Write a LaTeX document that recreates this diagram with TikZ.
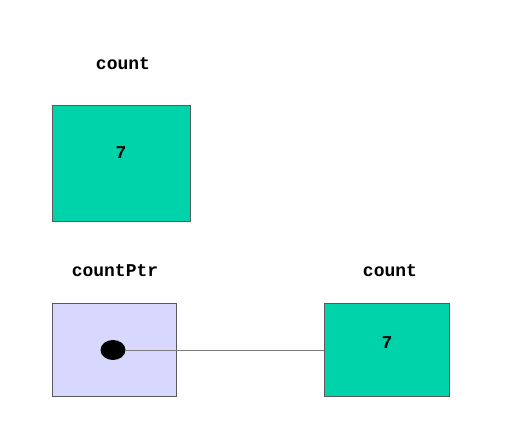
\documentclass[tikz,border=0pt]{standalone}
\usepackage{fontspec}
\setmonofont{Liberation Mono}
\usetikzlibrary{shapes.geometric}
\definecolor{valgreen}{HTML}{00D2AA}
\definecolor{ptrblue}{HTML}{D8D8FF}
\definecolor{edge}{HTML}{5A5A5A}
\begin{document}
\begin{tikzpicture}[x=1pt,y=1pt,
  lbl/.style={font=\ttfamily\bfseries\fontsize{18}{20}\selectfont, text=black, inner sep=0pt},
  valbox/.style={draw=edge, fill=valgreen, line width=0.8pt},
  ptrbox/.style={draw=edge, fill=ptrblue, line width=0.8pt}]
\useasboundingbox (0,0) rectangle (528,445);
% top box
\path[valbox] (52,224) rectangle (190,340);
\node[lbl] (t7) at (121,292) {7};
\node[lbl] (tlabel) at (123,381) {count};
% bottom left
\path[ptrbox] (52,49) rectangle (176,142);
\node[lbl] (plabel) at (115,174) {countPtr};
% bottom right
\path[valbox] (324,49) rectangle (449,142);
\node[lbl] (b7) at (387,102) {7};
\node[lbl] (blabel) at (390,174) {count};
\coordinate (tgt) at (324,95);
\node[fill=black, ellipse, minimum width=25pt, minimum height=20pt, inner sep=0pt, draw=none] (dot) at (113,95) {};
\draw[edge!80!white, line width=0.8pt] (dot.east) -- (tgt);
\end{tikzpicture}
\end{document}
